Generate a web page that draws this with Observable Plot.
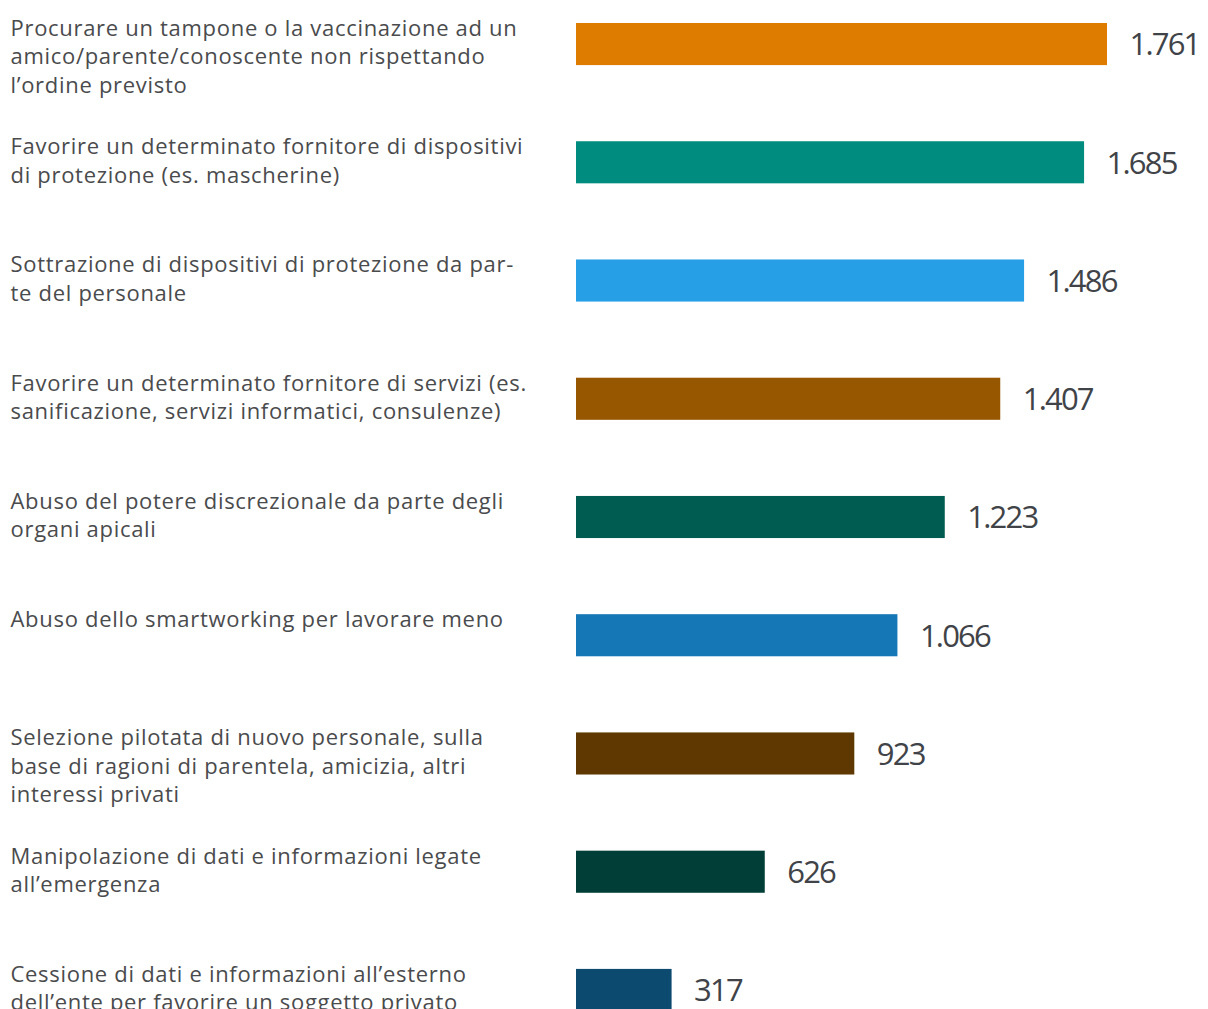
<!DOCTYPE html>
<html>
<head>
<meta charset="utf-8">
<script src="https://cdn.jsdelivr.net/npm/d3@7"></script>
<script src="https://cdn.jsdelivr.net/npm/@observablehq/plot@0.6"></script>
<style>
  html, body { margin: 0; padding: 0; background: #fff; overflow: hidden; }
  #chart svg { display: block; }
</style>
</head>
<body>
<div id="chart"></div>
<script>
const categories = [
  "Procurare un tampone o la vaccinazione ad un\namico/parente/conoscente non rispettando\nl’ordine previsto",
  "Favorire un determinato fornitore di dispositivi\ndi protezione (es. mascherine)",
  "Sottrazione di dispositivi di protezione da par-\nte del personale",
  "Favorire un determinato fornitore di servizi (es.\nsanificazione, servizi informatici, consulenze)",
  "Abuso del potere discrezionale da parte degli\norgani apicali",
  "Abuso dello smartworking per lavorare meno",
  "Selezione pilotata di nuovo personale, sulla\nbase di ragioni di parentela, amicizia, altri\ninteressi privati",
  "Manipolazione di dati e informazioni legate\nall’emergenza",
  "Cessione di dati e informazioni all’esterno\ndell’ente per favorire un soggetto privato"
];
const values = [1761, 1685, 1486, 1407, 1223, 1066, 923, 626, 317];
const colors = ["#de7c00", "#008c7e", "#279fe6", "#975600", "#005b50", "#1677b6", "#5e3800", "#013e37", "#0d4a70"];

const data = categories.map((c, i) => ({label: c, value: values[i]}));
const fmt = d3.formatLocale({decimal: ",", thousands: ".", grouping: [3], currency: ["", "€"]}).format(",d");

const chart = Plot.plot({
  width: 1208,
  height: 1034,
  marginLeft: 576,
  marginRight: 0,
  marginTop: 0,
  marginBottom: 0,
  style: {background: "#fff"},
  x: {domain: [0, 2096], axis: null},
  y: {domain: categories, axis: null, paddingInner: 0.644, paddingOuter: 0.1945, round: false},
  color: {domain: categories, range: colors},
  marks: [
    Plot.barX(data, {y: "label", x: "value", fill: "label"}),
    Plot.text(data, {
      y: "label", x: "value", text: d => fmt(d.value),
      textAnchor: "start", dx: 22, dy: 1,
      fontSize: 31, fill: "#404347",
      fontFamily: "Open Sans", fontWeight: 400
    }),
    Plot.text(data, {
      y: "label", text: "label", frameAnchor: "left",
      textAnchor: "start", lineAnchor: "top", dx: -566, dy: -29,
      fontSize: 22, lineHeight: 1.3, fill: "#4a4b4d",
      fontFamily: "Open Sans", fontWeight: 400
    })
  ]
});
// letter spacing (not a Plot option): values tighter, labels looser
const textGroups = chart.querySelectorAll('g[aria-label="text"]');
if (textGroups[0]) textGroups[0].setAttribute("letter-spacing", "-1.8px");
if (textGroups[1]) textGroups[1].setAttribute("letter-spacing", "0.7px");
document.getElementById("chart").appendChild(chart);
</script>
</body>
</html>
